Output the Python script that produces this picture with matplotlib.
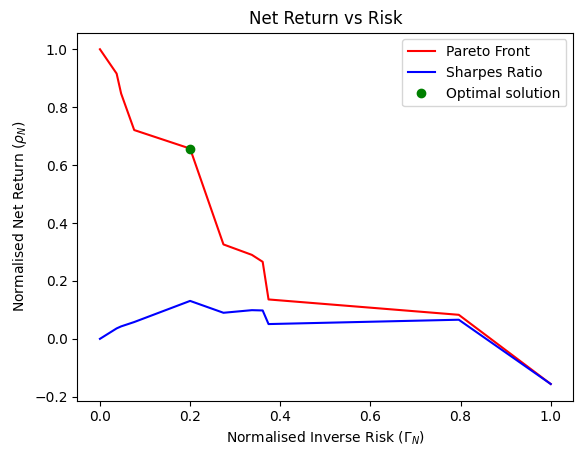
import matplotlib
matplotlib.use("Agg")
import matplotlib.pyplot as plt

# values
inverse_risk = [0.0, 0.037, 0.047, 0.076, 0.2, 0.274, 0.337, 0.361, 0.374, 0.796, 1.0]
net_return = [1.0, 0.916, 0.847, 0.721, 0.657, 0.326, 0.290, 0.266, 0.136, 0.083, -0.156]
sharpe = [0.0, 0.036, 0.043, 0.058, 0.131, 0.090, 0.099, 0.098, 0.051, 0.066, -0.156]
optimal_x = [0.2]
optimal_y = [0.655]

fig = plt.figure(figsize=(5.82, 4.58), dpi=100)
ax = fig.add_axes([0.133, 0.125, 0.852, 0.804])

ax.plot(inverse_risk, net_return, color='red', label='Pareto Front')
ax.plot(inverse_risk, sharpe, color='blue', label='Sharpes Ratio')
ax.plot(optimal_x, optimal_y, 'o', color='green', label='Optimal solution')

ax.set_title('Net Return vs Risk')
ax.set_xlabel(r'Normalised Inverse Risk ($\Gamma_N$)')
ax.set_ylabel(r'Normalised Net Return ($\rho_N$)')
ax.legend(loc='upper right')

fig.savefig('out.png', dpi=100)
